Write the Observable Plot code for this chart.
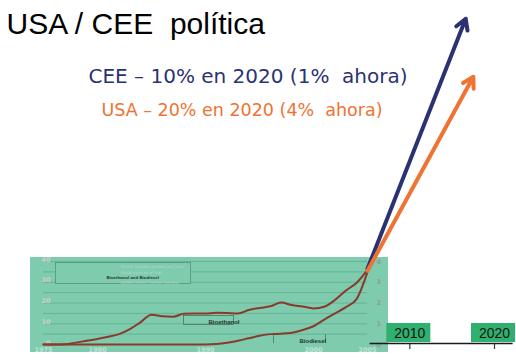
<!DOCTYPE html>
<html><head><meta charset="utf-8">
<script src="https://cdn.jsdelivr.net/npm/d3@7"></script>
<script src="https://cdn.jsdelivr.net/npm/@observablehq/plot@0.6"></script>
<style>
html,body{margin:0;padding:0;background:#fff;}
#slide{position:relative;width:516px;height:362px;overflow:hidden;}
#slide svg{position:absolute;}
</style></head><body><div id="slide"></div>
<script>
// ---- slide texts ----
const titleText = "USA / CEE\u00a0 política";
const ceeText = "CEE – 10% en 2020 (1%\u00a0 ahora)";
const usaText = "USA – 20% en 2020 (4%\u00a0 ahora)";

// ---- embedded chart: global biofuel production ----
const years = [1975,1976,1977,1978,1979,1980,1981,1982,1983,1984,1985,1986,1987,1988,1989,1990,
               1991,1992,1993,1994,1995,1996,1997,1998,1999,2000,2001,2002,2003,2004,2005];
const bioethanol = [0,0,0.1,0.9,1.8,2.7,3.7,5.0,7.4,10.8,14.3,13.6,13.4,14.8,14.9,14.9,
                    15.3,15.2,15.0,16.6,17.6,18.4,20.2,19.0,18.3,17.4,18.2,21.5,26.0,29.8,36.0]; // left axis
const biodiesel = [0,0,0,0,0,0,0,0,0,0,0,0,0,0,0,0,
                   0.02,0.08,0.18,0.3,0.42,0.5,0.52,0.57,0.7,0.88,1.2,1.5,1.8,2.2,3.5];       // right axis
const leftTicks = [0,10,20,30,40];
const rightTicks = [0,1,2,3,4];
const gridTicks = [5,10,15,20,25,30,35,40];
const yearTicks = [1975,1980,1990,2000,2005];
const legendLines = ["Global biofuels production from", "liquid sources of fuel", "Bioethanol and Biodiesel", "(billion litres / million tonnes)"];

// ---- projections ----
const milestones = [2010, 2020];
const timelineYears = [2005.3, 2022.2];
const projRegion = ["CEE", "USA"];
const projStartYear = [2005, 2005];
const projStartValue = [36.5, 35.5];
const projEndYear = [2016.6, 2017.5];
const projEndValue = [157, 129];

const panelColor = "#7fcbae";
const gridColor = "#63b497";
const leftLabelColor = "#c9d1cd";
const rightLabelColor = "#8e9c95";
const yearLabelColor = "#bde3d6";
const faintText = "#b4d8ca";
const lineColor = "#8a3a2a";
const navy = "#2b3272";
const orange = "#ef7332";

const slide = document.getElementById("slide");

const inner = Plot.plot({
  width: 358, height: 95,
  marginLeft: 13, marginRight: 21, marginTop: 4, marginBottom: 8,
  x: {domain: [1975, 2005], axis: null},
  y: {domain: [0, 40], axis: null},
  style: {background: panelColor, fontFamily: "DejaVu Sans", overflow: "hidden"},
  marks: [
    Plot.gridY(gridTicks, {stroke: gridColor, strokeOpacity: 1, strokeWidth: 1}),
    Plot.frame({insetLeft: 12, insetRight: 177, insetTop: 1, insetBottom: 61, stroke: "#5d9c86", strokeWidth: 1, fill: panelColor}),
    Plot.text([legendLines[0]], {frameAnchor: "top-left", dx: 77, dy: 3.8, fontSize: 4, fill: faintText}),
    Plot.text([legendLines[1]], {frameAnchor: "top-left", dx: 77, dy: 9.2, fontSize: 4, fill: faintText}),
    Plot.text([legendLines[2]], {frameAnchor: "top-left", dx: 63, dy: 14.6, fontSize: 4.4, fontWeight: "bold", fontFamily: "Liberation Sans", fill: "#26332c"}),
    Plot.text([legendLines[3]], {frameAnchor: "top-left", dx: 77, dy: 20, fontSize: 4, fill: faintText}),
    Plot.frame({insetLeft: 140, insetRight: 134, insetTop: 54, insetBottom: 20, stroke: "#4f6f62", strokeWidth: 0.8}),
    Plot.text(["Bioethanol"], {frameAnchor: "top-left", dx: 165, dy: 58.5, fontSize: 6, fontWeight: "bold", fontFamily: "Liberation Sans", fill: "#26332c"}),
    Plot.frame({anchor: "left", insetLeft: 230, insetRight: 42, insetTop: 73, insetBottom: 2, stroke: "#4f6f62", strokeWidth: 0.8}),
    Plot.frame({anchor: "right", insetLeft: 230, insetRight: 42, insetTop: 73, insetBottom: 2, stroke: "#4f6f62", strokeWidth: 0.8}),
    Plot.text(["Biodiesel"], {frameAnchor: "top-left", dx: 256, dy: 77, fontSize: 6, fontWeight: "bold", fontFamily: "Liberation Sans", fill: "#26332c"}),
    Plot.text(leftTicks, {y: d => d, text: d => String(d), frameAnchor: "left", dx: 7, dy: -2, textAnchor: "end", fontSize: 6.5, fontWeight: "bold", fill: leftLabelColor}),
    Plot.text(rightTicks, {y: d => d * 10, text: d => String(d), frameAnchor: "right", dx: 9, textAnchor: "start", fontSize: 6.5, fontWeight: "bold", fill: rightLabelColor}),
    Plot.text(yearTicks, {x: d => d, text: d => String(d), frameAnchor: "bottom", dy: 7, fontSize: 6.5, fontWeight: "bold", fill: yearLabelColor}),
    Plot.line(years, {x: d => d, y: (d, i) => biodiesel[i] * 10, stroke: lineColor, strokeWidth: 2, curve: "monotone-x"}),
    Plot.line(years, {x: d => d, y: (d, i) => bioethanol[i], stroke: lineColor, strokeWidth: 2, curve: "monotone-x"})
  ]
});
inner.style.left = "30px";
inner.style.top = "257px";
slide.appendChild(inner);

const outer = Plot.plot({
  width: 516, height: 362,
  marginLeft: 0, marginRight: 0, marginTop: 0, marginBottom: 0,
  x: {type: "linear", domain: [1975, 2005, 2020], range: [43, 367, 494], axis: null},
  y: {domain: [0, 40], range: [344, 261], axis: null},
  style: {background: "transparent", overflow: "visible"},
  marks: [
    Plot.ruleY([0], {x1: timelineYears[0], x2: timelineYears[1], stroke: "#1a1a1a", strokeWidth: 1.5, dy: -1}),
    Plot.ruleX(milestones, {x: d => d, y1: 0, y2: 0, insetBottom: -5, stroke: "#333", strokeWidth: 1.2}),
    Plot.rect(milestones, {x1: d => d, x2: d => d, y1: 0, y2: 0, insetLeft: -23, insetRight: -21, insetTop: -21, insetBottom: 2, fill: "#2fb06e"}),
    Plot.text(milestones, {x: d => d, y: 0, dy: -11, text: d => String(d), fontSize: 14, fontFamily: "Liberation Sans", fill: "#151515"}),
    Plot.arrow(projRegion, {
      x1: (d, i) => projStartYear[i], y1: (d, i) => projStartValue[i],
      x2: (d, i) => projEndYear[i], y2: (d, i) => projEndValue[i],
      stroke: d => d === "CEE" ? navy : orange, strokeWidth: 4, headLength: 4.5
    }),
    Plot.text([titleText], {frameAnchor: "top-left", dx: 6, dy: 12.5, lineAnchor: "top", textAnchor: "start", fontSize: 30, fontFamily: "Liberation Sans", fill: "#000"}),
    Plot.text([ceeText], {frameAnchor: "top-left", dx: 88, dy: 68.5, lineAnchor: "top", textAnchor: "start", fontSize: 20, fontFamily: "DejaVu Sans", fill: navy}),
    Plot.text([usaText], {frameAnchor: "top-left", dx: 101, dy: 103.5, lineAnchor: "top", textAnchor: "start", fontSize: 17.5, fontFamily: "DejaVu Sans", fill: orange})
  ]
});
outer.style.left = "0px";
outer.style.top = "0px";
slide.appendChild(outer);
</script></body></html>
